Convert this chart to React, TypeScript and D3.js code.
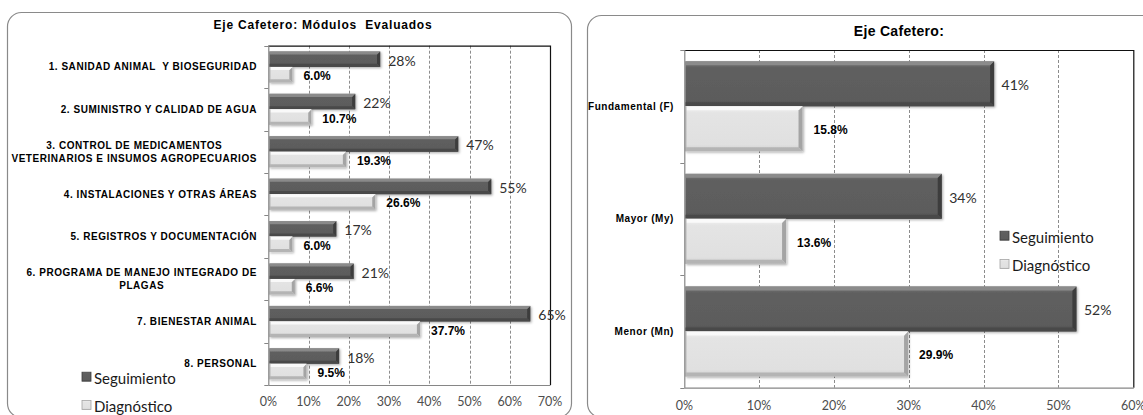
import React, { useEffect, useRef } from "react";
import * as d3 from "d3";

// ---------- Data ----------
const leftCategories = [
  "1. SANIDAD ANIMAL  Y BIOSEGURIDAD",
  "2. SUMINISTRO Y CALIDAD DE AGUA",
  "3. CONTROL DE MEDICAMENTOS\nVETERINARIOS E INSUMOS AGROPECUARIOS",
  "4. INSTALACIONES Y OTRAS ÁREAS",
  "5. REGISTROS Y DOCUMENTACIÓN",
  "6. PROGRAMA DE MANEJO INTEGRADO DE\nPLAGAS",
  "7. BIENESTAR ANIMAL",
  "8. PERSONAL",
];
const leftSeguimiento = [27.8, 21.6, 47.2, 55.4, 16.9, 21.2, 65.1, 17.6];
const leftDiagnostico = [6.0, 10.7, 19.3, 26.6, 6.0, 6.6, 37.7, 9.5];
const leftTicks = [0, 10, 20, 30, 40, 50, 60, 70];
const leftTitle = "Eje Cafetero: Módulos  Evaluados";

const rightCategories = ["Fundamental (F)", "Mayor (My)", "Menor (Mn)"];
const rightSeguimiento = [41.4, 34.4, 52.4];
const rightDiagnostico = [15.8, 13.6, 29.9];
const rightTicks = [0, 10, 20, 30, 40, 50, 60];
const rightTitle = "Eje Cafetero:";

const seriesNames = ["Seguimiento", "Diagnóstico"];

// ---------- Drawing ----------
const SANS = "'Liberation Sans', Arial, sans-serif";
const CAL = "Lato, 'Open Sans', sans-serif";

type Cfg = {
  box: [number, number, number, number];
  titleX: number;
  titleY: number;
  titleSize: number;
  titleSpacing: number;
  title: string;
  x0: number;
  x1: number;
  y0: number;
  y1: number;
  categories: string[];
  seg: number[];
  diag: number[];
  ticks: number[];
  groupPad: number;
  catRight: number;
  tickY: number;
  segOff: number;
  diagOff: number;
  legX: number;
  legY: [number, number];
};

function drawChart(svg: d3.Selection<SVGSVGElement, unknown, null, undefined>, c: Cfg) {
  const g = svg.append("g");
  const [bx, by, bw, bh] = c.box;
  g.append("rect")
    .attr("x", bx + 0.5)
    .attr("y", by + 0.5)
    .attr("width", bw)
    .attr("height", bh)
    .attr("rx", 14)
    .attr("fill", "#fff")
    .attr("stroke", "#8a8a8a")
    .attr("stroke-width", 1.2);

  g.append("text")
    .attr("x", c.titleX)
    .attr("y", c.titleY)
    .attr("text-anchor", "middle")
    .attr("dominant-baseline", "central")
    .style("white-space", "pre")
    .attr("font-family", SANS)
    .attr("font-weight", "bold")
    .attr("font-size", c.titleSize)
    .attr("letter-spacing", c.titleSpacing)
    .attr("fill", "#000")
    .text(c.title);

  const x = d3.scaleLinear().domain([c.ticks[0], c.ticks[c.ticks.length - 1]]).range([c.x0, c.x1]);
  const y = d3.scaleBand<string>().domain(c.categories).range([c.y0, c.y1]).padding(0);
  const inner = d3
    .scaleBand<string>()
    .domain(seriesNames)
    .range([c.groupPad, y.bandwidth() - c.groupPad])
    .padding(0);

  // gridlines
  g.selectAll(".grid")
    .data(c.ticks.slice(1, -1))
    .join("line")
    .attr("x1", (d) => Math.round(x(d)) + 0.5)
    .attr("x2", (d) => Math.round(x(d)) + 0.5)
    .attr("y1", c.y0)
    .attr("y2", c.y1)
    .attr("stroke", "#8c8c8c")
    .attr("stroke-dasharray", "3,2")
    .attr("stroke-width", 1);

  // frame: top & right black
  g.append("path")
    .attr("d", `M${c.x0},${c.y0 + 0.5}H${c.x1 + 0.5}V${c.y1}`)
    .attr("fill", "none")
    .attr("stroke", "#111")
    .attr("stroke-width", 1.2);

  // bars
  const bar = (v: number, yTop: number, h: number, dark: boolean) => {
    const x0 = x(0) + 1;
    const w = x(v) - x(0) - 1;
    const bg = g.append("g").attr("filter", "url(#shadow)");
    bg.append("rect")
      .attr("x", x0)
      .attr("y", yTop)
      .attr("width", w)
      .attr("height", h)
      .attr("fill", dark ? "url(#darkV)" : "url(#lightV)");
    const bev = Math.min(4, h * 0.2);
    bg.append("path")
      .attr(
        "d",
        `M${x0 + w - bev},${yTop + bev}L${x0 + w},${yTop}V${yTop + h}L${x0 + w - bev},${yTop + h - bev}Z`
      )
      .attr("fill", dark ? "#3c3c3c" : "#a4a4a4");
    bg.append("path")
      .attr("d", `M${x0},${yTop}H${x0 + w}L${x0 + w - bev},${yTop + bev}H${x0}Z`)
      .attr("fill", dark ? "#8e8e8e" : "#fbfbfb")
      .attr("opacity", 0.9);
    bg.append("path")
      .attr("d", `M${x0},${yTop + h}H${x0 + w}L${x0 + w - bev},${yTop + h - bev}H${x0}Z`)
      .attr("fill", dark ? "#4a4a4a" : "#b4b4b4");
    if (!dark) {
      bg.append("rect")
        .attr("x", x0)
        .attr("y", yTop)
        .attr("width", 1.2)
        .attr("height", h)
        .attr("fill", "#b8b8b8");
    }
  };

  c.categories.forEach((cat, i) => {
    const band = y(cat)!;
    const ys = band + inner(seriesNames[0])!;
    const yd = band + inner(seriesNames[1])!;
    const h = inner.bandwidth();
    bar(c.seg[i], ys, h, true);
    bar(c.diag[i], yd, h, false);
    g.append("text")
      .attr("x", x(c.seg[i]) + c.segOff)
      .attr("y", ys + h / 2 + 1)
      .attr("dominant-baseline", "central")
      .attr("font-family", CAL)
      .attr("font-size", 14)
      .attr("fill", "#303030")
      .text(d3.format(".0f")(c.seg[i]) + "%");
    g.append("text")
      .attr("x", x(c.diag[i]) + c.diagOff)
      .attr("y", yd + h / 2 + 1.5)
      .attr("dominant-baseline", "central")
      .attr("font-family", SANS)
      .attr("font-weight", "bold")
      .attr("font-size", 12)
      .attr("fill", "#000")
      .text(d3.format(".1f")(c.diag[i]) + "%");
  });

  // left & bottom axes (gray)
  g.append("path")
    .attr("d", `M${c.x0 + 0.5},${c.y0}V${c.y1 + 0.5}H${c.x1 + 0.5}`)
    .attr("fill", "none")
    .attr("stroke", "#868686")
    .attr("stroke-width", 1.2);
  const bounds = c.categories.map((cat) => y(cat)!).concat([c.y1]);
  g.selectAll(".ytick")
    .data(bounds)
    .join("line")
    .attr("x1", c.x0 - 4)
    .attr("x2", c.x0)
    .attr("y1", (d) => Math.round(d) + 0.5)
    .attr("y2", (d) => Math.round(d) + 0.5)
    .attr("stroke", "#868686");

  // category labels
  c.categories.forEach((cat) => {
    const lines = cat.split("\n");
    const cy = y(cat)! + y.bandwidth() / 2;
    const t = g
      .append("text")
      .attr("font-family", SANS)
      .attr("font-weight", "bold")
      .attr("font-size", 10)
      .attr("letter-spacing", 0.55)
      .attr("fill", "#000")
      .style("white-space", "pre");
    const lh = 13.3;
    const spans = lines.map((ln, k) =>
      t
        .append("tspan")
        .attr("x", c.catRight)
        .attr("y", cy + (k - (lines.length - 1) / 2) * lh)
        .attr("dominant-baseline", "central")
        .attr("text-anchor", "end")
        .text(ln)
    );
    if (lines.length > 1) {
      const widths = spans.map((s) => (s.node() as SVGTSpanElement).getComputedTextLength());
      const maxW = d3.max(widths) || 0;
      const center = c.catRight - maxW / 2;
      spans.forEach((s) => s.attr("x", center).attr("text-anchor", "middle"));
    }
  });

  // tick labels
  g.selectAll(".xlab")
    .data(c.ticks)
    .join("text")
    .attr("x", (d) => x(d))
    .attr("y", c.tickY)
    .attr("text-anchor", "middle")
    .attr("dominant-baseline", "central")
    .attr("font-family", CAL)
    .attr("font-size", 12.5)
    .attr("fill", "#4d4d4d")
    .text((d) => d + "%");

  // legend
  seriesNames.forEach((name, k) => {
    const ly = c.legY[k];
    g.append("rect")
      .attr("x", c.legX)
      .attr("y", ly - 4.5)
      .attr("width", 9)
      .attr("height", 9)
      .attr("fill", k === 0 ? "url(#darkV)" : "url(#lightV)")
      .attr("stroke", k === 0 ? "#3c3c3c" : "#a4a4a4")
      .attr("stroke-width", 0.8);
    g.append("text")
      .attr("x", c.legX + 12)
      .attr("y", ly + 1)
      .attr("dominant-baseline", "central")
      .attr("font-family", CAL)
      .attr("font-size", 15)
      .attr("fill", "#1a1a1a")
      .text(name);
  });
}

export default function App() {
  const ref = useRef<SVGSVGElement>(null);
  useEffect(() => {
    const svg = d3.select(ref.current!);
    svg.selectAll("*").remove();
    const defs = svg.append("defs");
    const grad = (id: string, stops: [number, string][]) => {
      const lg = defs.append("linearGradient").attr("id", id).attr("x1", 0).attr("y1", 0).attr("x2", 0).attr("y2", 1);
      stops.forEach(([o, col]) => lg.append("stop").attr("offset", o).attr("stop-color", col));
    };
    grad("darkV", [
      [0, "#7a7a7a"],
      [0.15, "#5f5f5f"],
      [0.85, "#5c5c5c"],
      [1, "#505050"],
    ]);
    grad("lightV", [
      [0, "#f4f4f4"],
      [0.15, "#e4e4e4"],
      [0.85, "#e0e0e0"],
      [1, "#cfcfcf"],
    ]);
    const f = defs.append("filter").attr("id", "shadow").attr("x", -0.1).attr("y", -0.3).attr("width", 1.3).attr("height", 1.8);
    f.append("feDropShadow")
      .attr("dx", 1.2)
      .attr("dy", 1.2)
      .attr("stdDeviation", 1)
      .attr("flood-color", "#000")
      .attr("flood-opacity", 0.3);

    drawChart(svg, {
      box: [7, 12, 564, 405],
      titleX: 323,
      titleY: 25,
      titleSize: 12,
      titleSpacing: 0.8,
      title: leftTitle,
      x0: 268.3,
      x1: 550,
      y0: 45.7,
      y1: 385,
      categories: leftCategories,
      seg: leftSeguimiento,
      diag: leftDiagnostico,
      ticks: leftTicks,
      groupPad: 5.7,
      catRight: 257,
      tickY: 401,
      segOff: 8,
      diagOff: 11,
      legX: 82,
      legY: [376.7, 405],
    });
    drawChart(svg, {
      box: [587, 15, 620, 402],
      titleX: 899,
      titleY: 31,
      titleSize: 14,
      titleSpacing: 0.3,
      title: rightTitle,
      x0: 684.3,
      x1: 1133.3,
      y0: 50,
      y1: 387.7,
      categories: rightCategories,
      seg: rightSeguimiento,
      diag: rightDiagnostico,
      ticks: rightTicks,
      groupPad: 11.3,
      catRight: 674,
      tickY: 405,
      segOff: 7.5,
      diagOff: 11,
      legX: 1000,
      legY: [235.7, 264],
    });
  }, []);
  return (
    <svg
      ref={ref}
      width={1143}
      height={415}
      style={{ position: "absolute", left: 0, top: 0, background: "#fff" }}
    />
  );
}
